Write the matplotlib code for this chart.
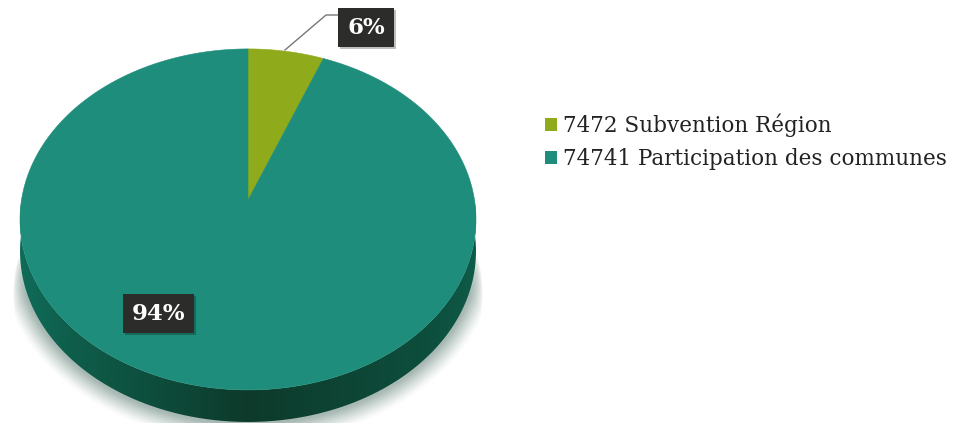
import numpy as np
import matplotlib
matplotlib.use('Agg')
import matplotlib.pyplot as plt
from matplotlib.patches import Patch, Polygon, Rectangle

labels = ['7472 Subvention Région', '74741 Participation des communes']
shares = [6, 94]
colors = ['#8fab1b', '#1f8d7b']
pct_labels = ['6%', '94%']

# pie geometry in pixels, tilted disc
cx, cy = 248, 200
ax_w, ax_h = 226.5, 168.3
tilt = 0.114
depth = 32


def project(theta):
    u = np.sin(theta)
    v = np.cos(theta)
    w = 1 + tilt * v
    return cx + ax_w * u / w, cy - ax_h * v / w


fig = plt.figure(figsize=(9.58, 4.23), dpi=100)
ax = fig.add_axes([0, 0, 1, 1])
ax.set_xlim(0, 958)
ax.set_ylim(423, 0)
ax.axis('off')

# soft shadow under the front of the disc, widths taper towards the ends
for lw, a in zip(np.arange(30, 2, -2), np.linspace(0.02, 0.08, 14)):
    trim = 0.12 + lw * 0.012
    front = np.linspace(np.pi / 2 + trim, 3 * np.pi / 2 - trim, 200)
    sx, sy = project(front)
    ax.plot(sx, sy + depth, color='#5f7f74', lw=lw, alpha=a, zorder=1, solid_capstyle='round')

# side wall, darker towards the bottom
front = np.linspace(np.pi / 2, 3 * np.pi / 2, 200)
fx, fy = project(front)
wall = Polygon(np.r_[np.c_[fx, fy], np.c_[fx[::-1], fy[::-1] + depth]], closed=True, fc='none', ec='none', zorder=2)
ax.add_patch(wall)
grad = np.interp(np.linspace(0, 1, 256), [0, 0.12, 0.5, 0.9, 1], [0.0, 0.3, 1.0, 0.6, 0.35])
c0 = np.array([0x0f, 0x6c, 0x58]) / 255
c1 = np.array([0x0d, 0x3a, 0x2b]) / 255
img = (c0[None, None, :] * (1 - grad[None, :, None]) + c1[None, None, :] * grad[None, :, None])
im = ax.imshow(img, extent=[20, 476, 423, 200], aspect='auto', zorder=2)
im.set_clip_path(wall)
ax.set_xlim(0, 958)
ax.set_ylim(423, 0)

# top face
start = 0.0
for share, color in zip(shares, colors):
    end = start + share / sum(shares) * 2 * np.pi
    wx, wy = project(np.linspace(start, end, 200))
    ax.fill(np.r_[cx, wx], np.r_[cy, wy], fc=color, ec=color, lw=0.4, zorder=3)
    start = end

# percentage tags
ax.plot([285, 326, 338], [50, 15, 15], color='#777777', lw=1, zorder=4)
tag_boxes = [(338, 8, 56, 39), (123, 294, 71, 39)]
for txt, (x, y, w, h) in zip(pct_labels, tag_boxes):
    ax.add_patch(Rectangle((x + 2, y + 2), w, h, fc='#000000', alpha=0.25, ec='none', zorder=4))
    ax.add_patch(Rectangle((x, y), w, h, fc='#2c2c2a', ec='none', zorder=5))
    ax.text(x + w / 2, y + h / 2 + 1, txt, color='white', fontsize=16.5, fontweight='bold',
            family='DejaVu Serif', ha='center', va='center', zorder=6)

handles = [Patch(fc=c, ec='none') for c in colors]
ax.legend(handles, labels, loc='upper left', bbox_to_anchor=(0.569, 0.731), frameon=False,
          prop={'family': 'DejaVu Serif', 'size': 15.5}, handlelength=0.56, handleheight=0.56,
          handletextpad=0.28, labelspacing=0.52, labelcolor='#222222', borderpad=0, borderaxespad=0)

fig.savefig('out.png', dpi=100)
